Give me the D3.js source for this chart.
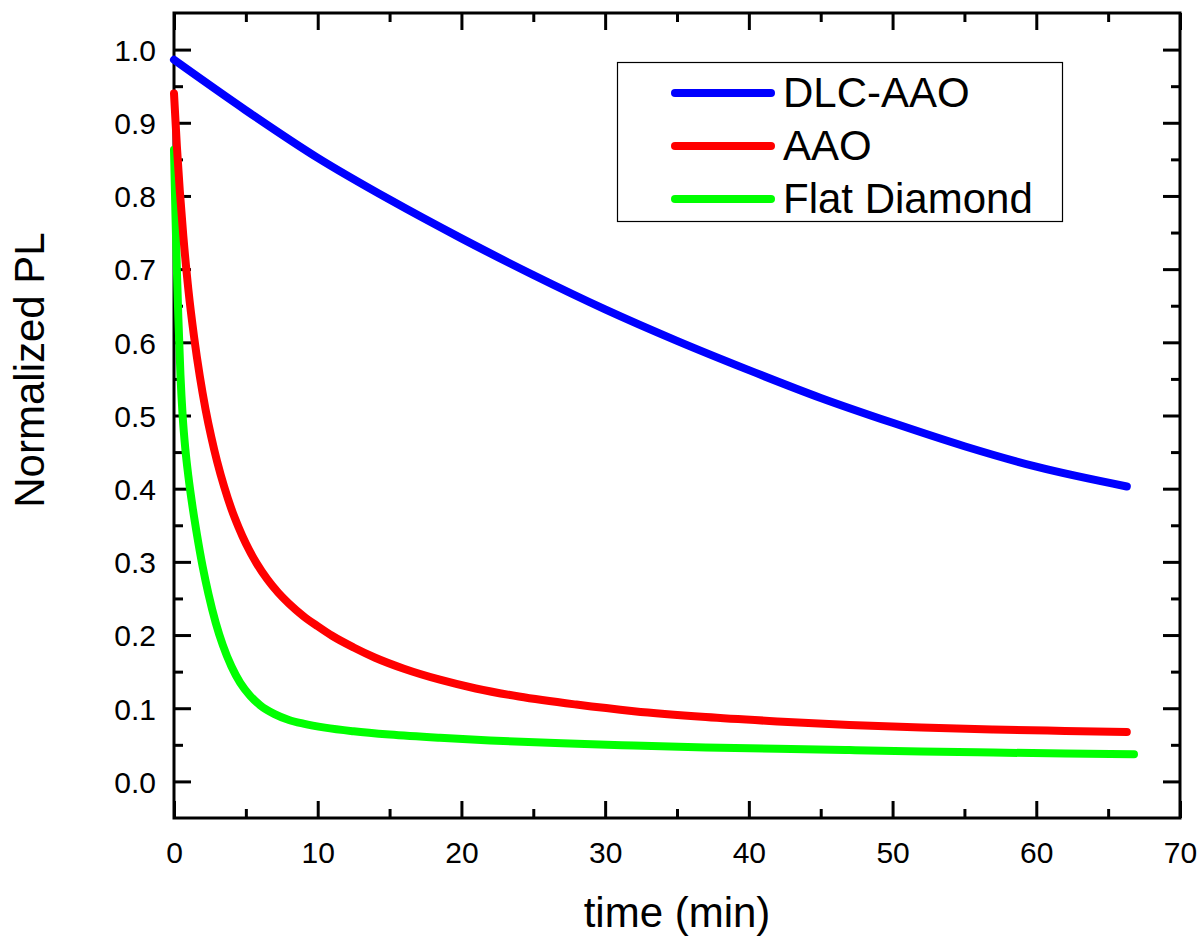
<!DOCTYPE html>
<html>
<head>
<meta charset="utf-8">
<script src="https://cdn.jsdelivr.net/npm/d3@7"></script>
<style>
  body { margin: 0; background: #fff; }
  svg { display: block; font-family: "Liberation Sans", Arial, sans-serif; }
</style>
</head>
<body>
<div id="chart"></div>
<script>
// Curve data (time in min, normalized PL)
const dlcTime = [0, 5, 10, 15, 20, 25, 30, 35, 40, 45, 50, 55, 60, 66.3];
const dlcPL   = [0.986, 0.917, 0.852, 0.795, 0.742, 0.692, 0.645, 0.602, 0.562, 0.524, 0.490, 0.458, 0.430, 0.403];

const aaoTime = [0, 0.2, 0.4, 0.65, 1.0, 1.4, 1.8, 2.2, 2.6, 3.0, 3.5, 4.0, 4.5, 5.0, 5.75, 6.5, 7.25, 8.0, 9.0, 10, 11, 12.5, 14, 16, 18.5, 21, 24, 28, 32, 37, 42, 47, 52, 57, 62, 66.3];
const aaoPL   = [0.940, 0.868, 0.808, 0.745, 0.672, 0.607, 0.553, 0.508, 0.470, 0.437, 0.402, 0.372, 0.347, 0.325, 0.298, 0.276, 0.258, 0.243, 0.226, 0.212, 0.199, 0.183, 0.169, 0.154, 0.139, 0.127, 0.116, 0.105, 0.096, 0.088, 0.082, 0.077, 0.0735, 0.071, 0.069, 0.0675];

const flatTime = [0, 0.1, 0.2, 0.3, 0.45, 0.6, 0.8, 1.0, 1.3, 1.6, 2.0, 2.4, 2.9, 3.4, 4.0, 4.6, 5.3, 6.0, 7.0, 8.0, 9.0, 10.5, 12.5, 15, 18.5, 22, 27, 32, 37, 42, 47, 52, 57, 62, 66.8];
const flatPL   = [0.863, 0.775, 0.700, 0.635, 0.555, 0.500, 0.452, 0.417, 0.374, 0.337, 0.293, 0.256, 0.217, 0.186, 0.157, 0.135, 0.117, 0.104, 0.092, 0.084, 0.079, 0.0735, 0.0685, 0.064, 0.0595, 0.056, 0.052, 0.049, 0.0465, 0.0445, 0.0428, 0.041, 0.0395, 0.038, 0.037];

const seriesNames  = ["DLC-AAO", "AAO", "Flat Diamond"];
const seriesColors = ["#0000ff", "#ff0000", "#00ff00"];

const xMajorTicks = [0, 10, 20, 30, 40, 50, 60, 70];
const xMinorTicks = [5, 15, 25, 35, 45, 55, 65];
const yMajorTicks = [0, 0.1, 0.2, 0.3, 0.4, 0.5, 0.6, 0.7, 0.8, 0.9, 1.0];
const yMinorTicks = [0.05, 0.15, 0.25, 0.35, 0.45, 0.55, 0.65, 0.75, 0.85, 0.95];

const width = 1203, height = 938;
const plotLeft = 174, plotRight = 1180, plotTop = 13, plotBottom = 818;

const svg = d3.select("#chart").append("svg")
    .attr("width", width)
    .attr("height", height);

const x = d3.scaleLinear().domain([0, 70]).range([plotLeft, plotRight]);
const y = d3.scaleLinear().domain([-0.05, 1.05]).range([plotBottom, plotTop]);

// axes: major ticks long and inward, minor ticks short
function styleAxis(g) {
    g.select(".domain").remove();
    g.selectAll(".tick line").attr("stroke", "#000").attr("stroke-width", 3);
    g.selectAll(".tick text").attr("fill", "#000").style("font-size", "30px");
}

svg.append("g")
    .attr("transform", `translate(0,${plotBottom})`)
    .call(d3.axisBottom(x).tickValues(xMajorTicks).tickSize(-17).tickPadding(24).tickFormat(d3.format("d")))
    .call(styleAxis);
svg.append("g")
    .attr("transform", `translate(0,${plotBottom})`)
    .call(d3.axisBottom(x).tickValues(xMinorTicks).tickSize(-9).tickFormat(""))
    .call(styleAxis);
svg.append("g")
    .attr("transform", `translate(0,${plotTop})`)
    .call(d3.axisTop(x).tickValues(xMajorTicks).tickSize(-17).tickFormat(""))
    .call(styleAxis);
svg.append("g")
    .attr("transform", `translate(0,${plotTop})`)
    .call(d3.axisTop(x).tickValues(xMinorTicks).tickSize(-9).tickFormat(""))
    .call(styleAxis);

svg.append("g")
    .attr("transform", `translate(${plotLeft},0)`)
    .call(d3.axisLeft(y).tickValues(yMajorTicks).tickSize(-17).tickPadding(18).tickFormat(d3.format(".1f")))
    .call(styleAxis)
    .call(g => g.selectAll(".tick text").attr("dy", "0.36em"));
svg.append("g")
    .attr("transform", `translate(${plotLeft},0)`)
    .call(d3.axisLeft(y).tickValues(yMinorTicks).tickSize(-9).tickFormat(""))
    .call(styleAxis);
svg.append("g")
    .attr("transform", `translate(${plotRight},0)`)
    .call(d3.axisRight(y).tickValues(yMajorTicks).tickSize(-17).tickFormat(""))
    .call(styleAxis);
svg.append("g")
    .attr("transform", `translate(${plotRight},0)`)
    .call(d3.axisRight(y).tickValues(yMinorTicks).tickSize(-9).tickFormat(""))
    .call(styleAxis);

// frame
svg.append("rect")
    .attr("x", plotLeft)
    .attr("y", plotTop)
    .attr("width", plotRight - plotLeft)
    .attr("height", plotBottom - plotTop)
    .attr("fill", "none")
    .attr("stroke", "#000")
    .attr("stroke-width", 3);

// curves
const series = [
    { name: seriesNames[0], color: seriesColors[0], pts: dlcTime.map((t, i) => [t, dlcPL[i]]) },
    { name: seriesNames[1], color: seriesColors[1], pts: aaoTime.map((t, i) => [t, aaoPL[i]]) },
    { name: seriesNames[2], color: seriesColors[2], pts: flatTime.map((t, i) => [t, flatPL[i]]) }
];

const line = d3.line()
    .x(d => x(d[0]))
    .y(d => y(d[1]))
    .curve(d3.curveMonotoneX);

// draw green first so red and blue sit on top
svg.selectAll(".curve")
    .data(series.slice().reverse())
    .enter()
    .append("path")
    .attr("class", "curve")
    .attr("d", d => line(d.pts))
    .attr("fill", "none")
    .attr("stroke", d => d.color)
    .attr("stroke-width", 8)
    .attr("stroke-linecap", "round")
    .attr("stroke-linejoin", "round");

// legend
const legend = svg.append("g");
legend.append("rect")
    .attr("x", 617.5)
    .attr("y", 62.5)
    .attr("width", 445)
    .attr("height", 159)
    .attr("fill", "#fff")
    .attr("stroke", "#000")
    .attr("stroke-width", 1.2);

const legendRows = legend.selectAll(".row")
    .data(series)
    .enter()
    .append("g")
    .attr("transform", (d, i) => `translate(0,${93 + i * 53})`);

legendRows.append("line")
    .attr("x1", 675)
    .attr("x2", 771)
    .attr("stroke", d => d.color)
    .attr("stroke-width", 8)
    .attr("stroke-linecap", "round");

legendRows.append("text")
    .attr("x", 783)
    .attr("y", 14)
    .style("font-size", "42px")
    .attr("fill", "#000")
    .text(d => d.name);

// axis titles
svg.append("text")
    .attr("x", (plotLeft + plotRight) / 2)
    .attr("y", 927)
    .attr("text-anchor", "middle")
    .style("font-size", "42px")
    .text("time (min)");

svg.append("text")
    .attr("transform", "translate(44,370) rotate(-90)")
    .attr("text-anchor", "middle")
    .style("font-size", "42px")
    .text("Normalized PL");
</script>
</body>
</html>
